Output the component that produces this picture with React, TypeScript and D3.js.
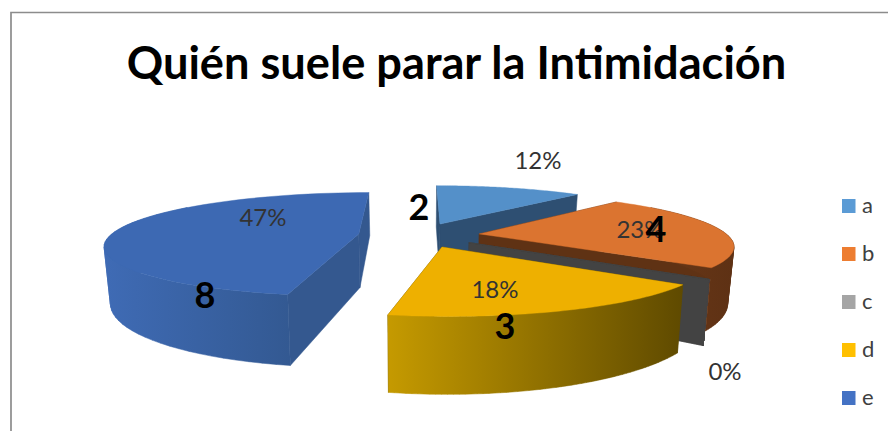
import React from "react";
import * as d3 from "d3";

const title = "Quién suele parar la Intimidación";
const categories = ["a", "b", "c", "d", "e"];
const counts = [2, 4, 0, 3, 8];
const percentLabels = ["12%", "23%", "0%", "18%", "47%"];
const legendColors = ["#5B9BD5", "#ED7D31", "#A5A5A5", "#FFC000", "#4472C4"];
const topColors = ["#5490C9", "#DB7430", "#434343", "#EEB000", "#3D69B3"];
const sideColors = ["#2E4F72", "#5F3214", "#434343", "#5E4A00", "#34588F"];
const wallFrom = ["#2E4F72", "#6A3818", "#434343", "#C59A00", "#3F6BB5"];
const wallTo = ["#2E4F72", "#5E3114", "#434343", "#5F4A00", "#335992"];

// hand placed, same as in the picture
const percentPos = [[538, 169], [640, 238], [725, 380], [495, 298], [263, 226]];
const countPos = [[419, 220], [656, 242], [505, 339], [205, 308]];
const countIdx = [0, 1, 3, 4];

const FONT = "Lato, Carlito, sans-serif";

// 3D pie projection
const CX = 419;
const CY = 235;
const RX = 248;
const RY = 50;
const DEPTH = 54;
const EXPLODE = 0.245;

const project = (X: number, Y: number, z: number): [number, number] => {
  const sx = (1 / (1 - 0.2 * Y)) * (1 - 0.02 * z);
  const sy = 1 / (1 - 0.2 * Y);
  const sz = 1 / (1 - 0.25 * Y);
  return [CX + RX * X * sx, CY + RY * Y * sy + DEPTH * z * sz];
};

const poly = d3
  .line<[number, number]>()
  .x((d) => d[0])
  .y((d) => d[1]);

export default function App() {
  const pie = d3
    .pie<number>()
    .sort(null)
    .value((d) => d);
  const arcs = pie(counts);

  const legendY = d3.scalePoint<string>().domain(categories).range([206, 398]);

  // back to front
  const order = [0, 1, 2, 4, 3];

  const slices = order.map((i) => {
    const a = arcs[i];
    const mid = (a.startAngle + a.endAngle) / 2;
    const ox = EXPLODE * Math.sin(mid);
    const oy = -EXPLODE * Math.cos(mid);
    const rimAngles = d3.range(0, 61).map((k) => a.startAngle + ((a.endAngle - a.startAngle) * k) / 60);
    const rim = (t: number, z: number) => project(ox + Math.sin(t), oy - Math.cos(t), z);
    const apex = (z: number) => project(ox, oy, z);
    const topPts = [apex(0), ...rimAngles.map((t) => rim(t, 0))];
    const frontAngles = rimAngles.filter((t) => Math.cos(t) < 0.6);
    // quads all wound the same way, so the fold at the silhouette leaves no hole
    const wallQuads = d3.pairs(frontAngles).map(([t0, t1]) => {
      const q: [number, number][] = [rim(t0, 0), rim(t1, 0), rim(t1, 1), rim(t0, 1)];
      return d3.polygonArea(q) < 0 ? q.reverse() : q;
    });
    const wallPath = wallQuads.map((q) => poly(q) + "Z").join("");
    const cutFace = (t: number) => [apex(0), rim(t, 0), rim(t, 1), apex(1)];
    const [x0, x1] = d3.extent(wallQuads.flat(), (p) => p[0]);
    return { i, topPts, wallPath, cuts: [cutFace(a.startAngle), cutFace(a.endAngle)], x0, x1 };
  });

  return (
    <div style={{ position: "absolute", left: 0, top: 0 }}>
      <svg width={888} height={431} style={{ display: "block" }} fontFamily={FONT}>
        <rect width={888} height={431} fill="#fff" />
        <path d="M11,431V12.5H888" fill="none" stroke="#8c8c8c" strokeWidth={1.7} />
        <text x={456.5} y={79} textAnchor="middle" fontSize={45.2} fontWeight={700} fill="#000">
          {title}
        </text>

        <defs>
          {slices.map((s) => (
            <linearGradient
              key={s.i}
              id={`wall-${s.i}`}
              gradientUnits="userSpaceOnUse"
              x1={s.x0 ?? 0}
              x2={s.x1 ?? 1}
              y1={0}
              y2={0}
            >
              <stop offset="0" stopColor={wallFrom[s.i]} />
              <stop offset="1" stopColor={wallTo[s.i]} />
            </linearGradient>
          ))}
        </defs>

        {slices.map((s) => (
          <g key={s.i}>
            {s.cuts.map((c, k) => (
              <path key={k} d={poly(c) + "Z"} fill={sideColors[s.i]} stroke={sideColors[s.i]} strokeWidth={0.5} />
            ))}
            {s.wallPath && (
              <path d={s.wallPath} fill={`url(#wall-${s.i})`} stroke={`url(#wall-${s.i})`} strokeWidth={0.5} />
            )}
            <path d={poly(s.topPts) + "Z"} fill={topColors[s.i]} stroke={topColors[s.i]} strokeWidth={0.4} />
          </g>
        ))}

        {percentLabels.map((p, i) => (
          <text key={p} x={percentPos[i][0]} y={percentPos[i][1]} textAnchor="middle" fontSize={24} fill="#333">
            {p}
          </text>
        ))}
        {countIdx.map((i, k) => (
          <text key={i} x={countPos[k][0]} y={countPos[k][1]} textAnchor="middle" fontSize={36} fontWeight={700} fill="#000">
            {counts[i]}
          </text>
        ))}

        {categories.map((c, i) => (
          <g key={c} transform={`translate(0,${legendY(c)})`}>
            <rect x={842} y={-7} width={13.5} height={14} fill={legendColors[i]} />
            <text x={862} y={7} fontSize={22} fill="#404040">
              {c}
            </text>
          </g>
        ))}
      </svg>
    </div>
  );
}
